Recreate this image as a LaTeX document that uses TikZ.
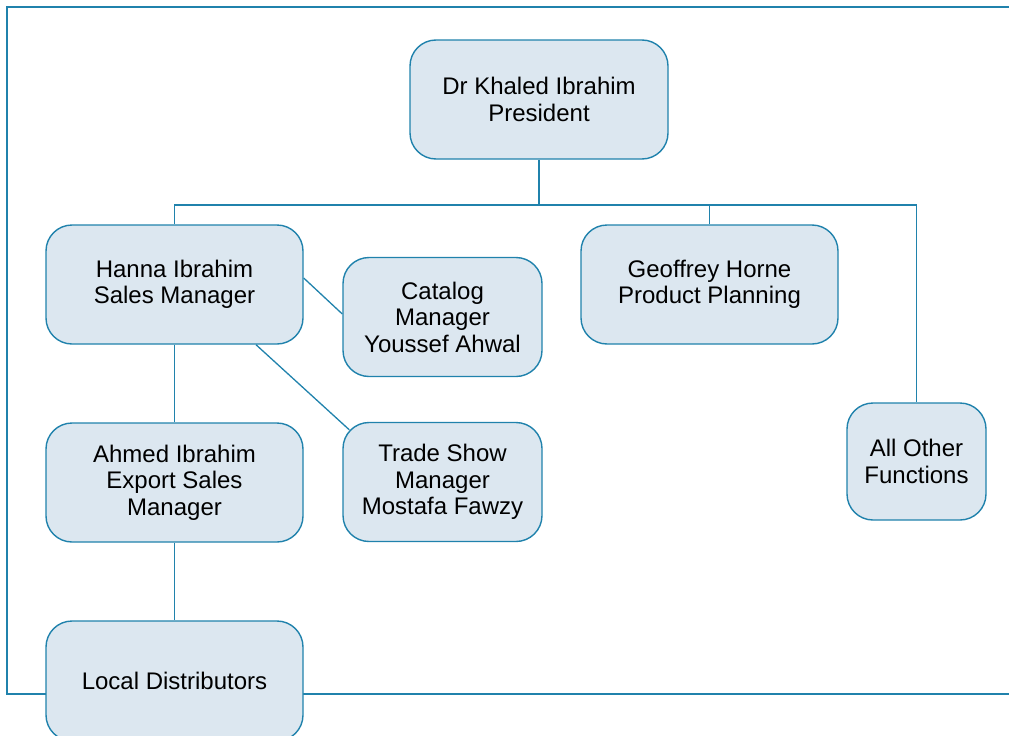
\documentclass[tikz,border=0pt]{standalone}
\usepackage{fontspec}
\setmainfont{Liberation Sans}
\definecolor{linec}{RGB}{32,130,172}
\definecolor{boxfill}{RGB}{220,231,240}
\tikzset{
  orgbox/.style={draw=linec, fill=boxfill, line width=1.4pt, rounded corners=26pt,
    inner sep=0pt, align=center, font=\fontsize{24}{26.5}\selectfont},
  conn/.style={draw=linec, line width=1.3pt},
  frameline/.style={draw=linec, line width=2pt}
}
\begin{document}
\begin{tikzpicture}[x=1pt,y=-1pt]
\useasboundingbox (0,0) rectangle (1009,736);
\clip (0,0) rectangle (1009,736);
\draw[frameline] (1030,694) -- (7,694) -- (7,7) -- (1030,7);

\node[orgbox, minimum width=258pt, minimum height=119pt] (pres) at (539,99.5) {Dr Khaled Ibrahim\\President};
\node[orgbox, minimum width=257pt, minimum height=119pt] (hanna) at (174.5,284.5) {Hanna Ibrahim\\Sales Manager};
\node[orgbox, minimum width=199pt, minimum height=119pt] (cat) at (442.5,317) {Catalog\\Manager\\Youssef Ahwal};
\node[orgbox, minimum width=257pt, minimum height=119pt] (geo) at (709.5,284.5) {Geoffrey Horne\\Product Planning};
\node[orgbox, minimum width=139pt, minimum height=117pt] (other) at (916.5,461.5) {All Other\\Functions};
\node[orgbox, minimum width=257pt, minimum height=119pt] (ahmed) at (174.5,482.5) {Ahmed Ibrahim\\Export Sales\\Manager};
\node[orgbox, minimum width=199pt, minimum height=119pt] (trade) at (442.5,482) {Trade Show\\Manager\\Mostafa Fawzy};
\node[orgbox, minimum width=257pt, minimum height=120pt] (local) at (174.5,681) {Local Distributors};

\coordinate (bus) at (539,205);
\draw[conn] (pres.south) -- (bus);
\draw[conn] (hanna.north) |- (bus) -| (other.north);
\draw[conn] (geo.north) -- (geo.north |- bus);
\draw[conn] (hanna.east |- 0,278) -- (cat.west |- 0,314);
\draw[conn] (hanna.south -| 256,0) -- ([shift={(7,8)}]trade.north west);
\draw[conn] (hanna.south) -- (ahmed.north);
\draw[conn] (ahmed.south) -- (local.north);
\end{tikzpicture}
\end{document}
